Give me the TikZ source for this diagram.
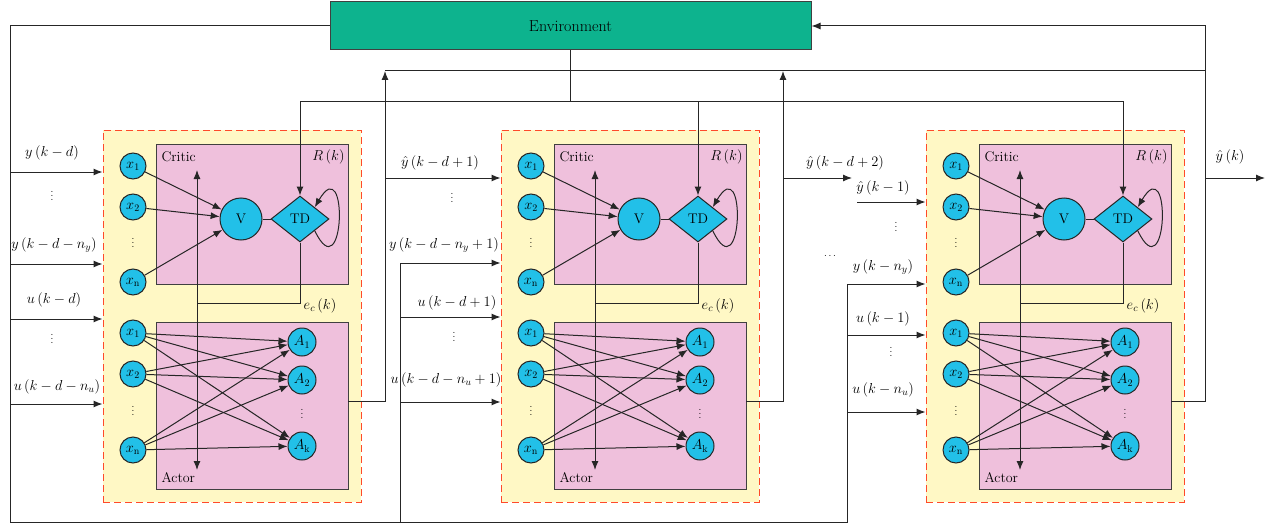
\documentclass[tikz,border=0pt]{standalone}
\usepackage{amssymb,amsmath}
\usepackage{tikz}
\usetikzlibrary{arrows,arrows.meta,shapes}
\definecolor{envgreen}{RGB}{13,179,142}
\definecolor{unitcyan}{RGB}{34,192,232}
\definecolor{blockyellow}{RGB}{255,248,197}
\definecolor{panelpink}{RGB}{239,192,220}
\definecolor{dashred}{RGB}{255,74,42}
\tikzstyle{unit}=[circle,draw=black!85,fill=unitcyan,minimum size=26pt,inner sep=0pt]
\tikzstyle{outunit}=[unit,minimum size=28pt]
\tikzstyle{value}=[unit,minimum size=42pt]
\tikzstyle{tdnode}=[diamond,draw=black!85,fill=unitcyan,minimum width=58pt,minimum height=46pt,inner sep=0pt]
\tikzstyle{block}=[rectangle,draw=dashred,dash pattern=on 7pt off 4pt,fill=blockyellow,minimum width=258pt,minimum height=372pt]
\tikzstyle{panel}=[rectangle,draw=black!75,fill=panelpink,minimum width=192pt,minimum height=140pt]
\tikzstyle{edge}=[draw,->,>={Latex[length=9pt,width=7pt]}]
\tikzstyle{wire}=[draw,-]
\tikzstyle{lbl}=[inner sep=1pt]
\tikzstyle{dots}=[font=\fontsize{10}{10}\selectfont,inner sep=0pt]

\begin{document}
\begin{tikzpicture}[x=1pt,y=-1pt,line width=1pt,draw=black!85,font=\fontsize{14}{16}\selectfont]
      \useasboundingbox (0,0) rectangle (1269,527);
      \node[draw=black!75,fill=envgreen,minimum width=481pt,minimum height=48pt,font=\fontsize{16}{18}\selectfont] (env) at (570.5,26) {Environment};
      % three identical actor-critic blocks
      \foreach \b/\dx in {1/0,2/398,3/823}{
      \begin{scope}[xshift=\dx pt]
      \node[block] (blk-\b) at (232,316) {};
      \node[panel] (crit-\b) at (252,214) {};
      \node[panel,minimum height=167pt] (act-\b) at (252,405.5) {};
      \node[lbl,anchor=west] (cl-\b) at (160,157) {Critic};
      \node[lbl,anchor=east] (rl-\b) at (346,157) {$R\,(k)$};
      \node[lbl,anchor=west] (al-\b) at (160,478) {Actor};
      \node[lbl] (el-\b) at (320,306) {$e_c\,(k)$};
      \node[unit] (cx1-\b) at (133,166) {$x_1$};
      \node[unit] (cx2-\b) at (133,207) {$x_2$};
      \node[dots] (cd-\b) at (133,240) {$\vdots$};
      \node[unit] (cxn-\b) at (133,282) {$x_{\mathrm{n}}$};
      \node[unit] (ax1-\b) at (133,333) {$x_1$};
      \node[unit] (ax2-\b) at (133,374) {$x_2$};
      \node[dots] (ad-\b) at (133,408) {$\vdots$};
      \node[unit] (axn-\b) at (133,450) {$x_{\mathrm{n}}$};
      \node[value] (v-\b) at (241,219) {V};
      \node[tdnode] (td-\b) at (300,219) {TD};
      \node[outunit] (a1-\b) at (302,342) {$A_1$};
      \node[outunit] (a2-\b) at (302,380) {$A_2$};
      \node[dots] (od-\b) at (302,411) {$\vdots$};
      \node[outunit] (ak-\b) at (302,446) {$A_{\mathrm{k}}$};
      \coordinate (rk-\b) at (300,101);
      \coordinate (ec-\b) at (300,303);
      \coordinate (ct-\b) at (197,170);
      \coordinate (cb-\b) at (197,470);
      \draw[edge] (cx1-\b) to (v-\b);
      \draw[edge] (cx2-\b) to (v-\b);
      \draw[edge] (cxn-\b) to (v-\b);
      \draw[wire] (v-\b) to (td-\b);
      \draw[edge] (td-\b.south east) .. controls +(30,62) and +(34,-58) .. (td-\b.north east);
      \draw[edge] (rk-\b) to (td-\b.north);
      \draw[wire] (td-\b.south) -- (ec-\b) -- (ec-\b -| ct-\b);
      \draw[edge,<->] (ct-\b) to (cb-\b);
      \foreach \i in {x1,x2,xn}
        \foreach \j in {a1,a2,ak}
          \draw[edge] (a\i-\b) to (\j-\b);
      \end{scope}}
      % inputs of the first block
      \coordinate (envL) at (10,26);
      \coordinate (botL) at (10,522);
      \coordinate (p1a) at (10,172);
      \coordinate (p1b) at (10,264);
      \coordinate (p1c) at (10,319);
      \coordinate (p1d) at (10,404);
      \node[lbl] (l1a) at (52,153) {$y\,(k-d)$};
      \node[dots] (d1a) at (52,193) {$\vdots$};
      \node[lbl] (l1b) at (54,245) {$y\,(k-d-n_y)$};
      \node[lbl] (l1c) at (54,300) {$u\,(k-d)$};
      \node[dots] (d1c) at (52,336) {$\vdots$};
      \node[lbl] (l1d) at (57,387) {$u\,(k-d-n_u)$};
      \draw[edge] (p1a) to (p1a -| blk-1.west);
      \draw[edge] (p1b) to (p1b -| blk-1.west);
      \draw[edge] (p1c) to (p1c -| blk-1.west);
      \draw[edge] (p1d) to (p1d -| blk-1.west);
      % inputs of the second block
      \coordinate (bus2) at (400,522);
      \coordinate (p2a) at (385,178);
      \coordinate (p2b) at (400,263);
      \coordinate (p2c) at (400,317);
      \coordinate (p2d) at (400,402);
      \node[lbl] (l2a) at (440,163) {$\hat{y}\,(k-d+1)$};
      \node[dots] (d2a) at (452,195) {$\vdots$};
      \node[lbl] (l2b) at (444,245) {$y\,(k-d-n_y+1)$};
      \node[lbl] (l2c) at (457,303) {$u\,(k-d+1)$};
      \node[dots] (d2c) at (454,334) {$\vdots$};
      \node[lbl] (l2d) at (446,380) {$u\,(k-d-n_u+1)$};
      \draw[edge] (p2a) to (p2a -| blk-2.west);
      \draw[edge] (p2b) to (p2b -| blk-2.west);
      \draw[edge] (p2c) to (p2c -| blk-2.west);
      \draw[edge] (p2d) to (p2d -| blk-2.west);
      % inputs of the last block
      \coordinate (bus3) at (847,522);
      \coordinate (p3a) at (783,178);
      \coordinate (q3a) at (852,178);
      \coordinate (p3b) at (857,202);
      \coordinate (p3c) at (847,284);
      \coordinate (p3d) at (847,335);
      \coordinate (p3e) at (847,412);
      \node[lbl] (l3a) at (845,163) {$\hat{y}\,(k-d+2)$};
      \node[lbl] (l3b) at (883,188) {$\hat{y}\,(k-1)$};
      \node[dots] (d3b) at (896,224) {$\vdots$};
      \node[dots] (d3x) at (830,256) {$\ldots$};
      \node[lbl] (l3c) at (883,267) {$y\,(k-n_y)$};
      \node[lbl] (l3d) at (883,319) {$u\,(k-1)$};
      \node[dots] (d3d) at (891,349) {$\vdots$};
      \node[lbl] (l3e) at (883,390) {$u\,(k-n_u)$};
      \draw[edge] (p3a) to (q3a);
      \draw[edge] (p3b) to (p3b -| blk-3.west);
      \draw[edge] (p3c) to (p3c -| blk-3.west);
      \draw[edge] (p3d) to (p3d -| blk-3.west);
      \draw[edge] (p3e) to (p3e -| blk-3.west);
      % actor outputs back to the environment
      \coordinate (o1) at (348,401);
      \coordinate (t1) at (385,401);
      \coordinate (u1) at (385,71);
      \coordinate (o2) at (746,401);
      \coordinate (t2) at (783,401);
      \coordinate (u2) at (783,71);
      \coordinate (o3) at (1171,401);
      \coordinate (t3) at (1205,401);
      \coordinate (envR) at (1205,26);
      \coordinate (p4a) at (1205,178);
      \coordinate (q4a) at (1265,178);
      \node[lbl] (l4a) at (1230,157) {$\hat{y}\,(k)$};
      \draw[edge] (o1) -- (t1) -- (u1);
      \draw[edge] (o2) -- (t2) -- (u2);
      \draw[edge] (o3) -- (t3) -- (envR) -- (env.east);
      \draw[wire] (u1) -- (u1 -| t3);
      \draw[edge] (p4a) to (q4a);
      % measured outputs and reward
      \draw[wire] (env.west) -- (envL) -- (botL) -- (bus3) -- (p3c);
      \draw[wire] (bus2) -- (p2b);
      \draw[wire] (env.south) -- (env.south |- rk-1);
      \draw[wire] (rk-1) -- (rk-3);
\end{tikzpicture}
\end{document}
